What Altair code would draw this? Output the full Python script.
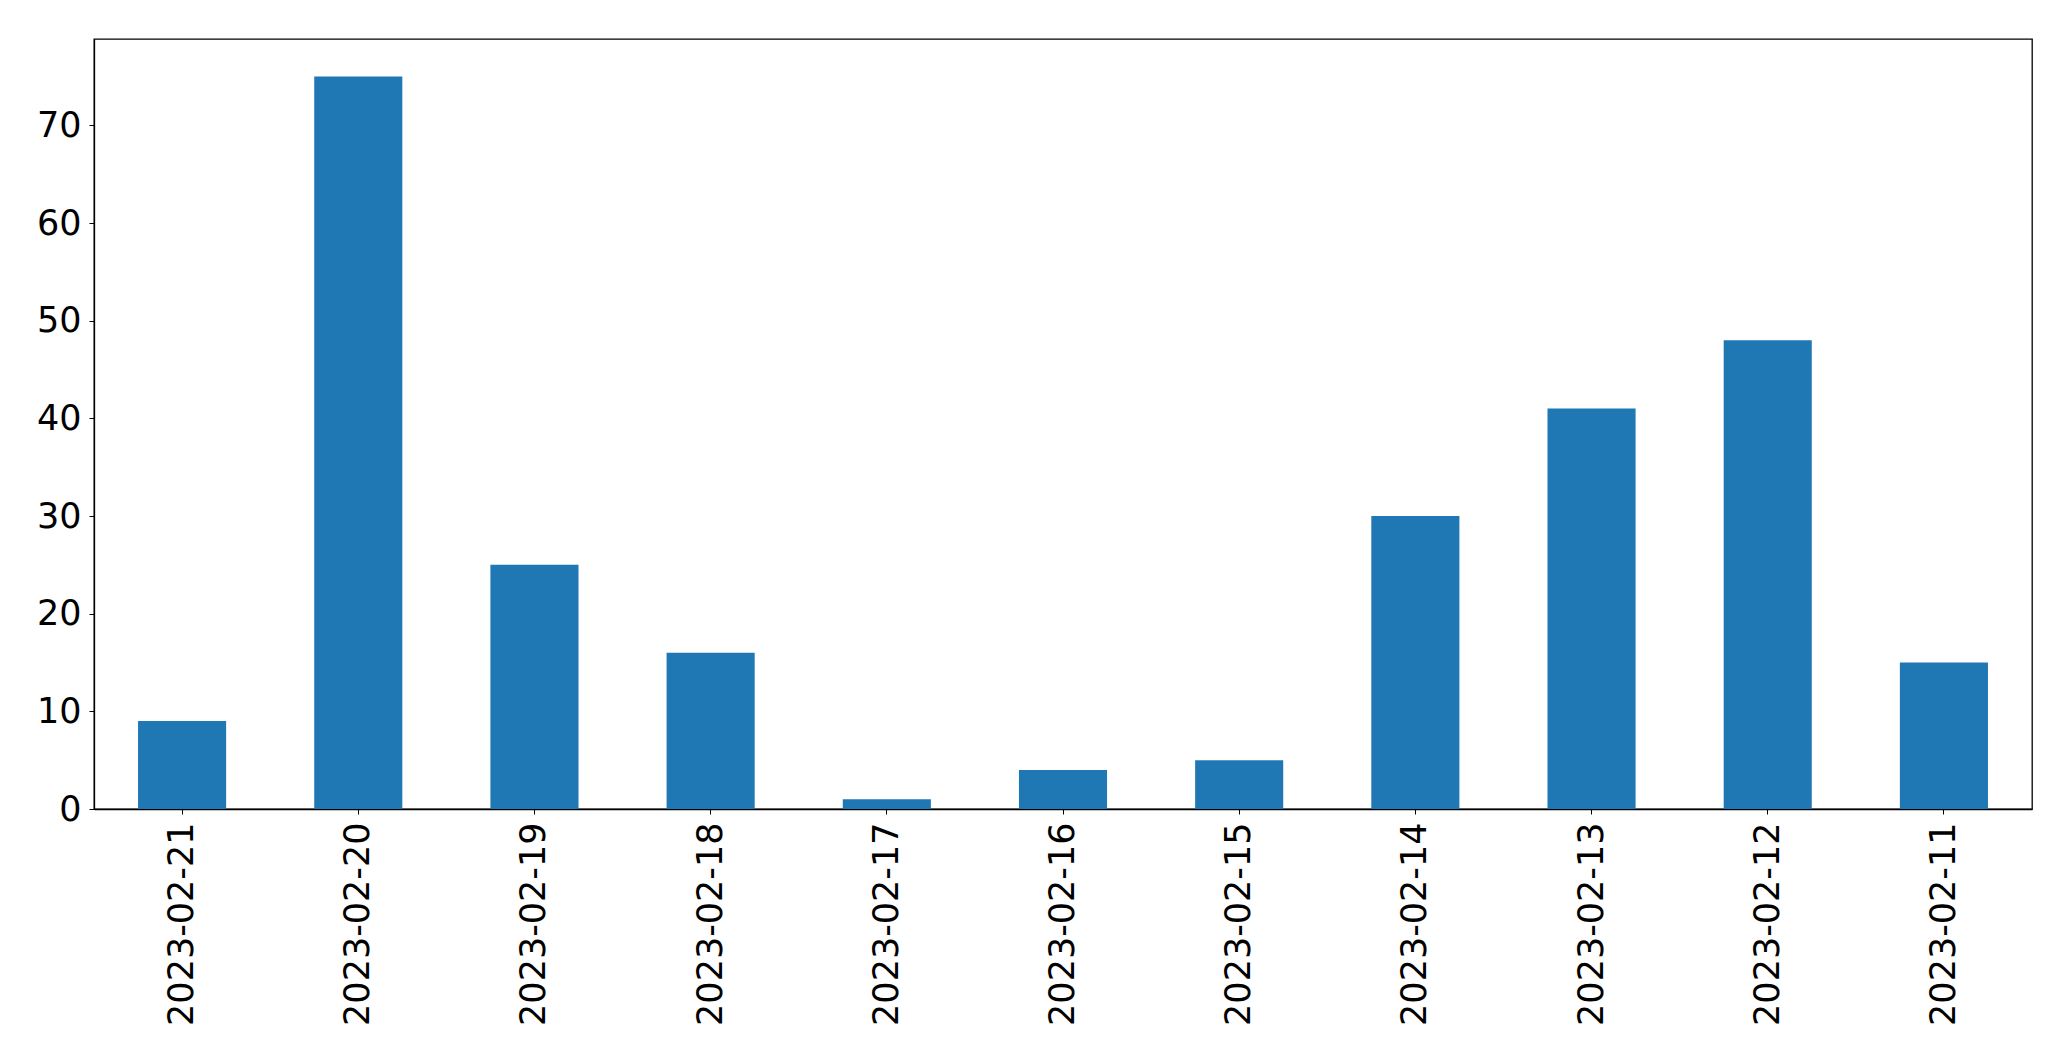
import altair as alt
import pandas as pd

dates = ["2023-02-21", "2023-02-20", "2023-02-19", "2023-02-18", "2023-02-17",
         "2023-02-16", "2023-02-15", "2023-02-14", "2023-02-13", "2023-02-12", "2023-02-11"]
counts = [9, 75, 25, 16, 1, 4, 5, 30, 41, 48, 15]

df = pd.DataFrame({"date": dates, "count": counts})

FONT = "DejaVu Sans"
FS = 35

chart = alt.Chart(df).mark_bar(color="#1f77b4").encode(
    x=alt.X("date:N", sort=dates, title=None,
            scale=alt.Scale(paddingInner=0.5, paddingOuter=0.25),
            axis=alt.Axis(labelAngle=270, labelAlign="right", labelBaseline="middle",
                          labelFont=FONT, labelFontSize=FS, labelColor="black",
                          labelPadding=8, tickSize=5, tickColor="black", labelLimit=1000,
                          domainColor="black", domainWidth=1.3, labelOverlap=False)),
    y=alt.Y("count:Q", title=None,
            scale=alt.Scale(domain=[0, 78.84], nice=False, zero=True),
            axis=alt.Axis(values=[0, 10, 20, 30, 40, 50, 60, 70], grid=False,
                          labelFont=FONT, labelFontSize=FS, labelColor="black",
                          labelPadding=8, tickSize=5, tickColor="black",
                          domainColor="black", domainWidth=1.3)),
).properties(
    width=1938, height=770,
    autosize=alt.AutoSizeParams(type="none"),
    padding={"left": 86, "top": 31, "right": 30, "bottom": 230},
).configure_view(stroke="black", strokeWidth=1.3)

chart.save("out.html", embed_options={"renderer": "svg", "actions": False})
